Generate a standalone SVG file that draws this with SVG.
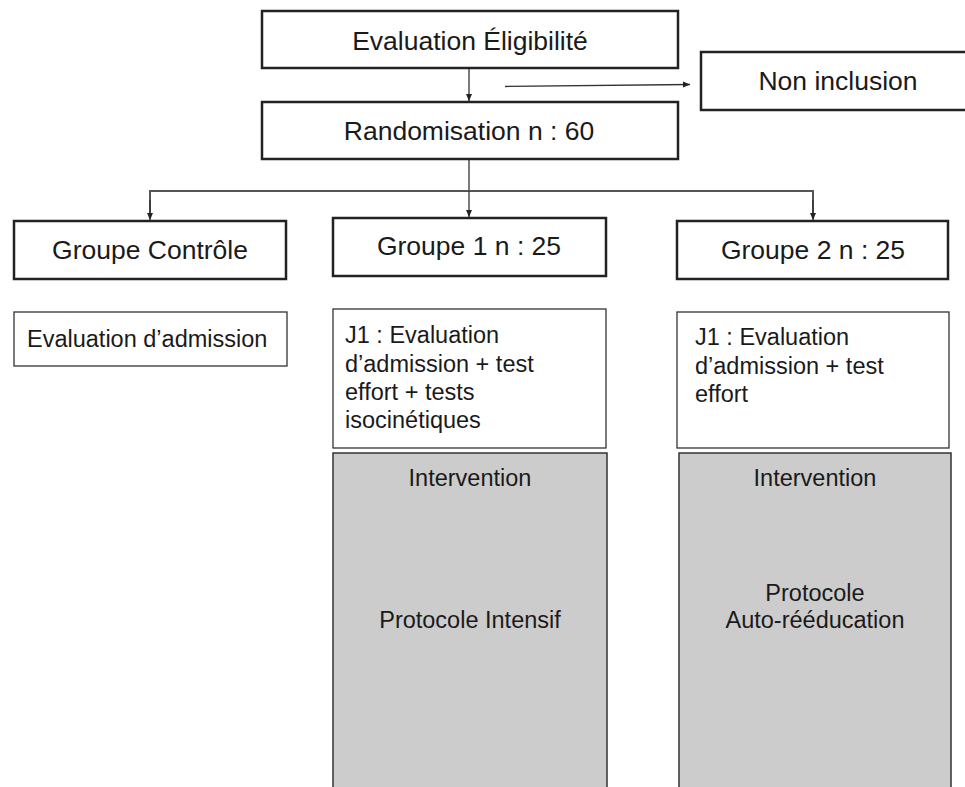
<svg xmlns="http://www.w3.org/2000/svg" width="965" height="787" viewBox="0 0 965 787">
<style>
.big{fill:#fff;stroke:#222;stroke-width:2.5}
.small{fill:#fff;stroke:#333;stroke-width:1.3}
.grey{fill:#cccccc;stroke:#333;stroke-width:1.5}
text{font-family:"Liberation Sans",Arial,sans-serif;fill:#1a1a1a}
.t26{font-size:26.5px}
.t22{font-size:23.5px}
.mid{text-anchor:middle}
.conn{fill:none;stroke:#333;stroke-width:1.3}
.bar{fill:none;stroke:#555;stroke-width:2}
</style>
<defs>
<marker id="ah" markerWidth="8" markerHeight="8" refX="7" refY="4" orient="auto" markerUnits="userSpaceOnUse">
<path d="M0,1 L7,4 L0,7 Z" fill="#222"/>
</marker>
</defs>
<rect width="965" height="787" fill="#fff"/>
<g id="connectors">
<line class="conn" x1="469" y1="69" x2="469" y2="101" marker-end="url(#ah)"/>
<line class="conn" x1="505" y1="86.5" x2="690" y2="84.5" marker-end="url(#ah)"/>
<line class="conn" x1="469" y1="160" x2="469" y2="191"/>
<polyline class="bar" points="150,218 150,191 813,191 813,218"/>
<line class="conn" x1="150" y1="200" x2="150" y2="220" marker-end="url(#ah)"/>
<line class="conn" x1="469" y1="191" x2="469" y2="217" marker-end="url(#ah)"/>
<line class="conn" x1="813" y1="200" x2="813" y2="220" marker-end="url(#ah)"/>
</g>
<g id="eligibilite">
<rect class="big" x="262" y="11" width="416" height="57"/>
<text class="t26 mid" x="470" y="50">Evaluation Éligibilité</text>
</g>
<g id="non-inclusion">
<rect class="big" x="701" y="52" width="270" height="58"/>
<text class="t26 mid" x="838" y="90">Non inclusion</text>
</g>
<g id="randomisation">
<rect class="big" x="262" y="102" width="416" height="57"/>
<text class="t26 mid" x="469" y="140">Randomisation n : 60</text>
</g>
<g id="groupe-controle">
<rect class="big" x="14" y="221" width="272" height="58"/>
<text class="t26 mid" x="150" y="259">Groupe Contrôle</text>
</g>
<g id="groupe-1">
<rect class="big" x="333" y="218" width="273" height="58"/>
<text class="t26 mid" x="469" y="255">Groupe 1 n : 25</text>
</g>
<g id="groupe-2">
<rect class="big" x="677" y="221" width="271" height="58"/>
<text class="t26 mid" x="813" y="259">Groupe 2 n : 25</text>
</g>
<g id="eval-admission">
<rect class="small" x="14" y="312" width="273" height="54"/>
<text class="t22" x="27" y="347">Evaluation d’admission</text>
</g>
<g id="j1-groupe-1">
<rect class="small" x="333" y="309" width="273" height="139"/>
<text class="t22" x="345" y="343">J1 : Evaluation</text>
<text class="t22" x="345" y="372">d’admission + test</text>
<text class="t22" x="345" y="400">effort + tests</text>
<text class="t22" x="345" y="428">isocinétiques</text>
</g>
<g id="j1-groupe-2">
<rect class="small" x="677" y="312" width="272" height="136"/>
<text class="t22" x="695" y="345">J1 : Evaluation</text>
<text class="t22" x="695" y="374">d’admission + test</text>
<text class="t22" x="695" y="402">effort</text>
</g>
<g id="intervention-1">
<rect class="grey" x="333" y="453" width="274" height="340"/>
<text class="t22 mid" x="470" y="486">Intervention</text>
<text class="t22 mid" x="470" y="628">Protocole Intensif</text>
</g>
<g id="intervention-2">
<rect class="grey" x="679" y="453" width="272" height="340"/>
<text class="t22 mid" x="815" y="486">Intervention</text>
<text class="t22 mid" x="815" y="601">Protocole</text>
<text class="t22 mid" x="815" y="628">Auto-rééducation</text>
</g>
</svg>
